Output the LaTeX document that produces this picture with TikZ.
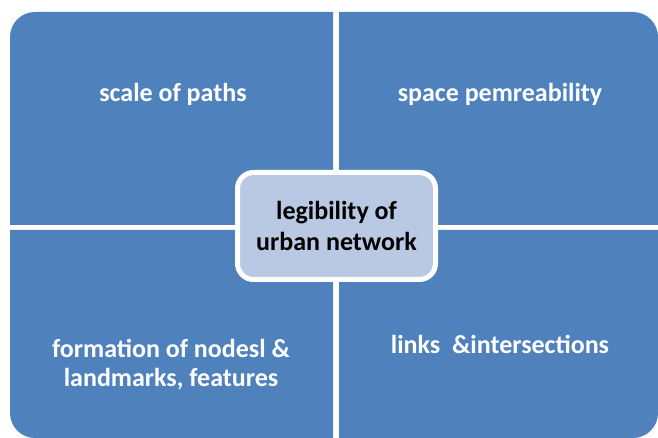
\documentclass[tikz,border=0pt]{standalone}
\usepackage{fontspec}
\setmainfont{Carlito}
\definecolor{quadblue}{HTML}{4F81BD}
\definecolor{hubfill}{HTML}{B9C9E3}
\tikzset{
  quad/.style={fill=quadblue},
  quadtext/.style={text=white,font=\bfseries\fontsize{26}{29}\selectfont,align=center,inner sep=0pt},
  hub/.style={rectangle,rounded corners=16pt,draw=white,line width=5pt,fill=hubfill,
    minimum width=198pt,minimum height=107pt,align=center,
    font=\bfseries\fontsize{26}{31}\selectfont}
}

\begin{document}
\begin{tikzpicture}[x=1pt,y=1pt]
    \useasboundingbox (0,0) rectangle (658,438);

    % — Four blocks, rounded only on their outer corners
    \fill[quad] (333,213) -- (10,213) -- (10,401)
      arc[start angle=180,end angle=90,radius=25] -- (333,426) -- cycle;
    \fill[quad] (339,213) -- (339,426) -- (633,426)
      arc[start angle=90,end angle=0,radius=25] -- (658,213) -- cycle;
    \fill[quad] (333,208) -- (333,0) -- (35,0)
      arc[start angle=270,end angle=180,radius=25] -- (10,208) -- cycle;
    \fill[quad] (339,0) -- (339,208) -- (658,208) -- (658,25)
      arc[start angle=0,end angle=-90,radius=25] -- cycle;

    % — Block labels
    \node[quadtext] (paths) at (173,344) {scale of paths};
    \node[quadtext] (perm)  at (500,344) {space pemreability};
    \node[quadtext] (nodes) at (171,73)  {formation of nodesl \&\\landmarks, features};
    \node[quadtext] (links) at (500,94)  {links\ \ \&intersections};

    % — Central box
    \node[hub] (legib) at (336.5,212) {legibility of\\urban network};
\end{tikzpicture}
\end{document}
